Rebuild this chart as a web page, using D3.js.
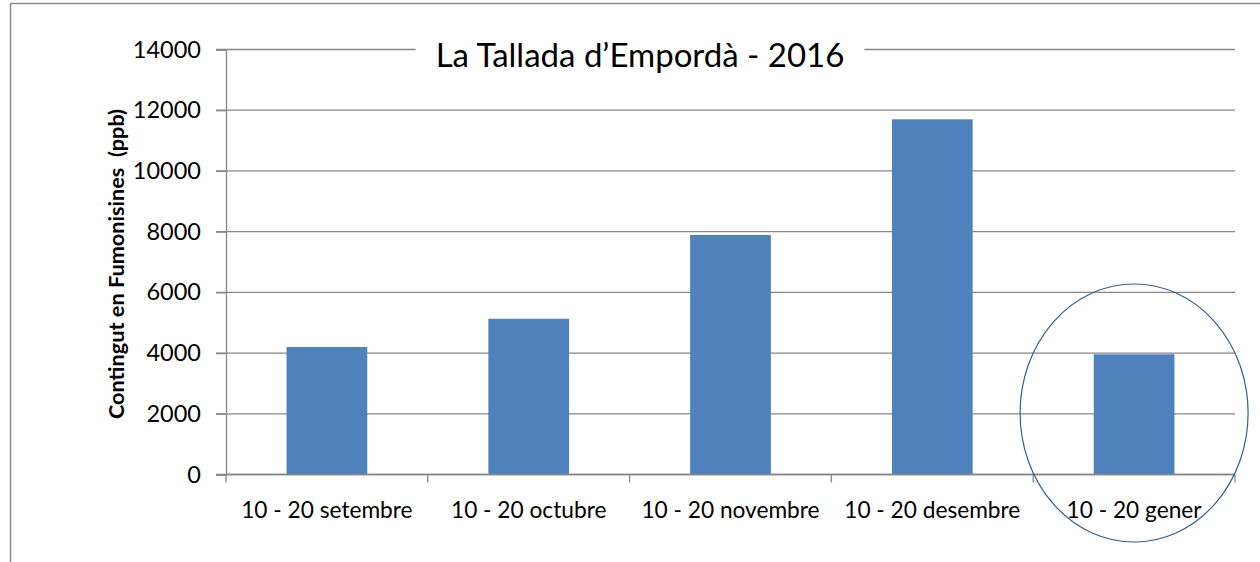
<!DOCTYPE html>
<html>
<head>
<meta charset="utf-8">
<script src="https://cdn.jsdelivr.net/npm/d3@7"></script>
<style>
  body { margin: 0; background: #fff; }
  svg { display: block; font-family: Lato, "Open Sans", sans-serif; }
</style>
</head>
<body>
<div id="chart"></div>
<script>
const categories = ['10 - 20 setembre', '10 - 20 octubre', '10 - 20 novembre', '10 - 20 desembre', '10 - 20 gener']
const values = [4200, 5130, 7890, 11700, 3960]
const yTicks = [0, 2000, 4000, 6000, 8000, 10000, 12000, 14000]
const title = 'La Tallada d\u2019Empordà - 2016'
const yLabel = 'Contingut en Fumonisines  (ppb)'
const highlighted = '10 - 20 gener'

const W = 1260
const H = 562
const plotLeft = 226
const plotRight = 1235
const plotTop = 49.5
const plotBottom = 474.5

const svg = d3.select('#chart').append('svg').attr('width', W).attr('height', H)

// outer chart frame (only top and left edges are in view)
svg.append('path')
  .attr('d', `M10.5,${H} V3.5 H${W}`)
  .attr('fill', 'none').attr('stroke', '#8c8c8c').attr('stroke-width', 1.5)

const x = d3.scaleBand(categories, [plotLeft, plotRight]).paddingInner(0.6).paddingOuter(0.3)
const y = d3.scaleLinear([0, 14000], [plotBottom, plotTop])

// gridlines
svg.append('g')
  .selectAll('line')
  .data(yTicks)
  .enter()
  .append('line')
  .attr('x1', plotLeft - 10).attr('x2', plotRight)
  .attr('y1', (d) => y(d)).attr('y2', (d) => y(d))
  .attr('stroke', '#878787').attr('stroke-width', 1.3)

// y axis
const yAxis = svg.append('g')
  .attr('transform', `translate(${plotLeft},0)`)
  .call(d3.axisLeft(y).tickValues(yTicks).tickSize(10).tickPadding(15).tickFormat(d3.format('d')))
yAxis.select('.domain').attr('stroke', '#878787').attr('stroke-width', 1.3)
yAxis.selectAll('.tick line').attr('stroke', '#878787').attr('stroke-width', 1.3)
yAxis.selectAll('.tick text')
  .attr('font-family', 'Lato, sans-serif').attr('font-size', 23.5).attr('fill', '#000')

// bars
svg.append('g')
  .selectAll('rect')
  .data(categories)
  .enter()
  .append('rect')
  .attr('x', (c) => x(c))
  .attr('y', (c, i) => y(values[i]))
  .attr('width', x.bandwidth())
  .attr('height', (c, i) => y(0) - y(values[i]))
  .attr('fill', '#4f81bd')

// x axis: baseline, boundary ticks and labels
const xAxis = svg.append('g').attr('transform', `translate(0,${plotBottom})`)
xAxis.append('line')
  .attr('x1', plotLeft).attr('x2', plotRight)
  .attr('stroke', '#878787').attr('stroke-width', 1.3)
const bounds = d3.range(categories.length + 1).map((i) => x.range()[0] + i * x.step())
xAxis.selectAll('.bound')
  .data(bounds)
  .enter()
  .append('line')
  .attr('class', 'bound')
  .attr('x1', (d) => d).attr('x2', (d) => d)
  .attr('y1', 0).attr('y2', 8)
  .attr('stroke', '#878787').attr('stroke-width', 1.3)
xAxis.selectAll('text')
  .data(categories)
  .enter()
  .append('text')
  .attr('x', (c) => x(c) + x.bandwidth() / 2)
  .attr('y', 43)
  .attr('text-anchor', 'middle')
  .attr('font-size', 22.7)
  .text((c) => c)

// y axis title
svg.append('text')
  .attr('transform', `translate(124,${(plotTop + plotBottom) / 2 + 2}) rotate(-90)`)
  .attr('text-anchor', 'middle')
  .attr('font-size', 21.7)
  .attr('font-weight', 'bold')
  .style('white-space', 'pre')
  .text(yLabel)

// chart title over the top gridline
const titleG = svg.append('g')
const titleBg = titleG.append('rect').attr('fill', '#fff')
const titleText = titleG.append('text')
  .attr('x', 640).attr('y', 67)
  .attr('text-anchor', 'middle')
  .attr('font-size', 33)
  .text(title)
const bb = titleText.node().getBBox()
titleBg.attr('x', bb.x - 20).attr('y', bb.y).attr('width', bb.width + 40).attr('height', bb.height)

// highlight ellipse around last bar
svg.append('ellipse')
  .attr('cx', x(highlighted) + x.bandwidth() / 2)
  .attr('cy', 413)
  .attr('rx', 114)
  .attr('ry', 129)
  .attr('fill', 'none')
  .attr('stroke', '#385d8a')
  .attr('stroke-width', 1.2)
</script>
</body>
</html>
